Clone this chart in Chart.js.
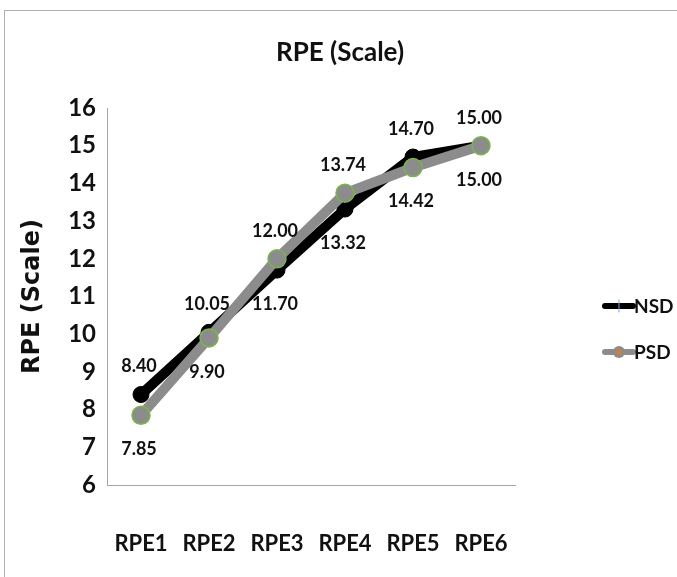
<!DOCTYPE html>
<html>
<head>
<meta charset="utf-8">
<script src="https://cdn.jsdelivr.net/npm/chart.js@4/dist/chart.umd.min.js"></script>
<style>
    html, body { margin: 0; padding: 0; background: #fff; overflow: hidden; }
    #frame {
        position: absolute; left: 4px; top: 10px; width: 690px; height: 590px;
        border: 1px solid #b0b0b0; box-sizing: border-box;
    }
    #wrap { position: absolute; left: 0; top: 0; width: 677px; height: 577px; }
</style>
</head>
<body>
<div id="frame"></div>
<div id="wrap"><canvas id="chart" width="677" height="577"></canvas></div>
<script>
// Dados do gráfico
const categories = ['RPE1', 'RPE2', 'RPE3', 'RPE4', 'RPE5', 'RPE6'];
const nsdValues = [8.40, 10.05, 11.70, 13.32, 14.70, 15.00];
const psdValues = [7.85, 9.90, 12.00, 13.74, 14.42, 15.00];
const yTicks = [6, 7, 8, 9, 10, 11, 12, 13, 14, 15, 16];
const chartTitle = 'RPE (Scale)';

const FONT = 'Lato, sans-serif';

// Título centrado na largura toda
const topTitle = {
    id: 'topTitle',
    afterDraw(chart) {
        const ctx = chart.ctx;
        ctx.save();
        ctx.font = 'bold 26px ' + FONT;
        ctx.fillStyle = '#111';
        ctx.textAlign = 'center';
        ctx.textBaseline = 'middle';
        ctx.fillText(chartTitle, 340, 53);
        ctx.restore();
    }
};

// Rótulos de valor: série maior em cima, menor em baixo
const valueLabels = {
    id: 'valueLabels',
    afterDatasetsDraw(chart) {
        const ctx = chart.ctx;
        ctx.save();
        ctx.font = 'bold 18px ' + FONT;
        ctx.fillStyle = '#111';
        ctx.textAlign = 'center';
        ctx.textBaseline = 'middle';
        chart.data.datasets.forEach((ds, di) => {
            const meta = chart.getDatasetMeta(di);
            meta.data.forEach((pt, i) => {
                const other = chart.data.datasets[1 - di].data[i];
                const v = ds.data[i];
                const above = v > other || (v === other && di === 0);
                const y = above ? pt.y - 28 : pt.y + 34;
                ctx.fillText(v.toFixed(2), pt.x - 2, y);
            });
        });
        ctx.restore();
    }
};

// Legenda desenhada à direita
const sideLegend = {
    id: 'sideLegend',
    afterDraw(chart) {
        const ctx = chart.ctx;
        ctx.save();
        const rows = [306, 352];
        chart.data.datasets.forEach((ds, di) => {
            const y = rows[di];
            ctx.strokeStyle = ds.borderColor;
            ctx.lineWidth = 6;
            ctx.lineCap = 'round';
            ctx.beginPath();
            ctx.moveTo(605, y);
            ctx.lineTo(633, y);
            ctx.stroke();
            if (di === 0) {
                ctx.strokeStyle = '#7fa7d8';
                ctx.lineWidth = 1;
                ctx.beginPath();
                ctx.moveTo(619, y - 6);
                ctx.lineTo(619, y + 6);
                ctx.stroke();
            } else {
                ctx.fillStyle = ds.pointBackgroundColor;
                ctx.beginPath();
                ctx.arc(619, y, 6, 0, Math.PI * 2);
                ctx.fill();
                ctx.fillStyle = '#e07b28';
                ctx.beginPath();
                ctx.arc(619, y, 2.5, 0, Math.PI * 2);
                ctx.fill();
            }
            ctx.fillStyle = '#111';
            ctx.font = 'bold 19px ' + FONT;
            ctx.textBaseline = 'middle';
            ctx.fillText(ds.label, 634, y + 1);
        });
        ctx.restore();
    }
};

new Chart(document.getElementById('chart').getContext('2d'), {
    type: 'line',
    data: {
        labels: categories,
        datasets: [
            {
                label: 'NSD',
                data: nsdValues,
                order: 1,
                borderColor: '#000000',
                backgroundColor: '#000000',
                pointBackgroundColor: '#000000',
                pointBorderColor: '#000000',
                borderWidth: 10,
                pointRadius: 8,
                pointBorderWidth: 1,
                tension: 0
            },
            {
                label: 'PSD',
                data: psdValues,
                order: 0,
                borderColor: '#8c8c8c',
                backgroundColor: '#8c8c8c',
                pointBackgroundColor: '#8c8c8c',
                pointBorderColor: '#7ab648',
                borderWidth: 10,
                pointRadius: 9,
                pointBorderWidth: 1.5,
                tension: 0
            }
        ]
    },
    options: {
        responsive: false,
        animation: false,
        layout: { padding: { left: 0, right: 162, top: 108, bottom: 0 } },
        plugins: {
            legend: { display: false },
            tooltip: { enabled: false },
            title: { display: false }
        },
        scales: {
            x: {
                offset: true,
                afterFit(scale) { scale.height = 92; },
                grid: { display: false, drawTicks: false },
                border: { display: true, color: '#a6a6a6', width: 1 },
                ticks: {
                    color: '#111',
                    font: { family: FONT, size: 22, weight: 'bold' },
                    padding: 46
                }
            },
            y: {
                min: 6,
                max: 16,
                afterFit(scale) { scale.width = 107; },
                afterBuildTicks(scale) {
                    scale.ticks = yTicks.map(v => ({ value: v }));
                },
                grid: { display: false, drawTicks: false },
                border: { display: true, color: '#a6a6a6', width: 1 },
                ticks: {
                    color: '#111',
                    font: { family: FONT, size: 24, weight: 'bold' },
                    padding: 11
                },
                title: {
                    display: true,
                    text: 'RPE (Scale)',
                    color: '#111',
                    font: { family: '"DejaVu Sans", sans-serif', size: 24, weight: 'bold' },
                    padding: { top: 18, bottom: 18 }
                }
            }
        }
    },
    plugins: [valueLabels, sideLegend, topTitle]
});
</script>
</body>
</html>
